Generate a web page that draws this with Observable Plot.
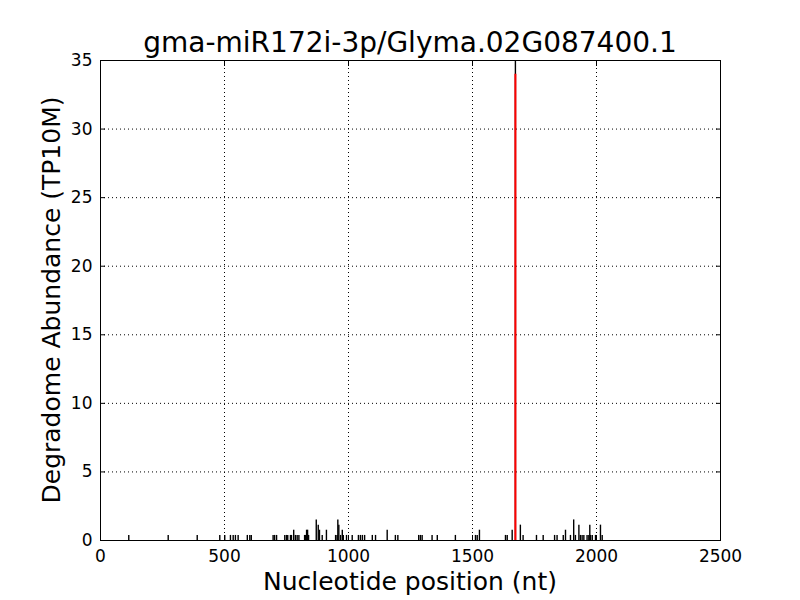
<!DOCTYPE html>
<html>
<head>
<meta charset="utf-8">
<script src="https://cdn.jsdelivr.net/npm/d3@7"></script>
<script src="https://cdn.jsdelivr.net/npm/@observablehq/plot@0.6"></script>
<style>
  html, body { margin: 0; padding: 0; background: #fff; }
  #wrap { position: relative; width: 800px; height: 600px; font-family: "DejaVu Sans", sans-serif; }
  #title { position: absolute; left: 100px; width: 620px; top: 27px; text-align: center; font-size: 28px; line-height: 32px; color: #000; }
  #xlabel { position: absolute; left: 100px; width: 620px; top: 567px; text-align: center; font-size: 25px; line-height: 30px; }
  #ylabel { position: absolute; left: 52px; top: 300px; transform: translate(-50%, -50%) rotate(-90deg); white-space: nowrap; font-size: 25px; line-height: 30px; }
  svg { position: absolute; left: 0; top: 0; }
</style>
</head>
<body>
<div id="wrap">
  <div id="chart"></div>
  <div id="title">gma-miR172i-3p/Glyma.02G087400.1</div>
  <div id="xlabel">Nucleotide position (nt)</div>
  <div id="ylabel">Degradome Abundance (TP10M)</div>
</div>
<script>
const titleText = "gma-miR172i-3p/Glyma.02G087400.1";
const xTicks = [0, 500, 1000, 1500, 2000, 2500];
const yTicks = [0, 5, 10, 15, 20, 25, 30, 35];

// Degradome tags: positions (nt) and abundances (TP10M)
const positions = [114, 273, 390, 481, 501, 524, 535, 544, 555, 592, 602, 608,
  696, 702, 710, 743, 750, 755, 766, 770, 779, 786, 793, 800, 823, 827, 831, 835, 839,
  870, 878, 883, 894, 911, 948, 954, 957, 961, 968, 975, 979, 992, 1015, 1040, 1048,
  1056, 1065, 1096, 1109, 1156, 1189, 1199, 1283, 1290, 1297, 1337, 1358, 1431,
  1512, 1519, 1528, 1633, 1640, 1660, 1673, 1693, 1704, 1758, 1785, 1831, 1841,
  1866, 1875, 1895, 1908, 1915, 1929, 1935, 1942, 1949, 1962, 1969, 1973, 1976,
  1983, 1996, 2016, 2023];
const abundances = [0.37, 0.37, 0.37, 0.37, 0.37, 0.37, 0.37, 0.37, 0.37, 0.37, 0.37, 0.37,
  0.37, 0.37, 0.37, 0.37, 0.37, 0.37, 0.37, 0.37, 0.75, 0.37, 0.37, 0.37, 0.37, 0.37, 0.75, 0.75, 0.37,
  1.5, 1.12, 0.75, 0.37, 0.75, 0.37, 0.37, 1.5, 1.12, 0.37, 0.75, 0.37, 0.37, 0.37, 0.37, 0.37,
  0.37, 0.37, 0.37, 0.37, 0.75, 0.37, 0.37, 0.37, 0.37, 0.37, 0.37, 0.37, 0.37,
  0.37, 0.37, 0.75, 0.37, 0.37, 0.75, 36, 1.12, 0.37, 0.37, 0.37, 0.37, 0.37,
  0.37, 0.75, 0.37, 1.5, 0.37, 1.12, 0.37, 0.37, 0.37, 0.37, 0.37, 1.12, 0.37,
  0.37, 0.37, 1.12, 0.37];

// Target site (cleavage) highlighted
const sitePosition = [1673];
const siteAbundance = [34];

const tags = positions.map((p, i) => ({pos: p, val: abundances[i]}));
const site = sitePosition.map((p, i) => ({pos: p, val: siteAbundance[i]}));
const fmt = d3.format("d");

const chart = Plot.plot({
  width: 800,
  height: 600,
  marginLeft: 100,
  marginRight: 80,
  marginTop: 60,
  marginBottom: 60,
  style: {fontFamily: "DejaVu Sans, sans-serif", fontSize: "17px", color: "#000", background: "#fff"},
  x: {domain: [0, 2500]},
  y: {domain: [0, 35]},
  marks: [
    Plot.gridX(xTicks, {stroke: "#000", strokeOpacity: 1, strokeDasharray: "1,3", strokeWidth: 1}),
    Plot.gridY(yTicks, {stroke: "#000", strokeOpacity: 1, strokeDasharray: "1,3", strokeWidth: 1}),
    Plot.ruleX(tags, {x: "pos", y1: 0, y2: "val", stroke: "#000", strokeWidth: 1.4, clip: true}),
    Plot.ruleX(site, {x: "pos", y1: 0, y2: "val", stroke: "#ff0000", strokeWidth: 2, clip: true}),
    Plot.axisX(xTicks, {anchor: "bottom", tickSize: -5, tickPadding: 14, tickFormat: fmt, label: null, fontSize: 17}),
    Plot.axisX(xTicks, {anchor: "top", tickSize: -5, tickFormat: () => "", label: null}),
    Plot.axisY(yTicks, {anchor: "left", tickSize: -5, tickPadding: 13, tickFormat: fmt, label: null, fontSize: 17}),
    Plot.axisY(yTicks, {anchor: "right", tickSize: -5, tickFormat: () => "", label: null}),
    Plot.frame({stroke: "#000", strokeWidth: 1})
  ]
});
document.getElementById("chart").appendChild(chart);
</script>
</body>
</html>
